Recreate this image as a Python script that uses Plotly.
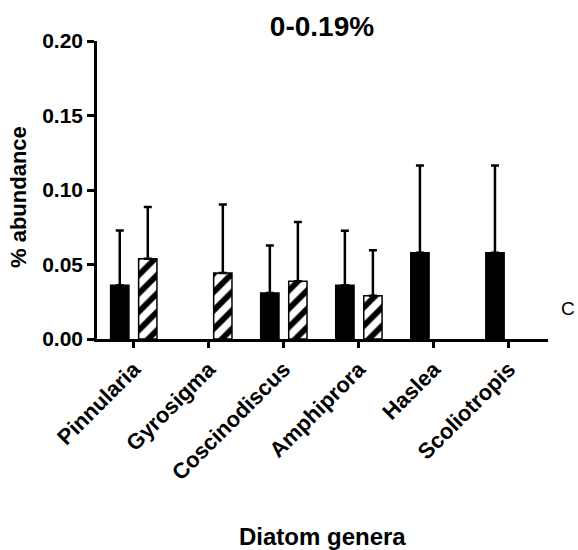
import plotly.graph_objects as go

# Diatom genera and mean % abundance (with upper SD) for the 0-0.19% class
genera = ["Pinnularia", "Gyrosigma", "Coscinodiscus", "Amphiprora", "Haslea", "Scoliotropis"]
solid_vals = [0.0360, None, 0.0309, 0.0360, 0.0579, 0.0579]
solid_err = [0.0369, None, 0.0319, 0.0367, 0.0586, 0.0586]
hatched_vals = [0.0539, 0.0443, 0.0387, 0.0291, None, None]
hatched_err = [0.0347, 0.0460, 0.0398, 0.0304, None, None]
y_ticks = [0.00, 0.05, 0.10, 0.15, 0.20]

FONT = "Arial, Liberation Sans, sans-serif"

fig = go.Figure()
fig.add_trace(go.Bar(
    x=genera, y=solid_vals,
    marker=dict(color="black", line=dict(color="black", width=1.5)),
    error_y=dict(type="data", array=solid_err, arrayminus=[0] * len(genera),
                 symmetric=False, color="black", thickness=2.5, width=4),
    showlegend=False,
))
fig.add_trace(go.Bar(
    x=genera, y=hatched_vals,
    marker=dict(color="white", line=dict(color="black", width=1.5),
                pattern=dict(shape="/", fgcolor="black", bgcolor="white",
                             fgopacity=1, size=13, solidity=0.45,
                             fillmode="replace")),
    error_y=dict(type="data", array=hatched_err, arrayminus=[0] * len(genera),
                 symmetric=False, color="black", thickness=2.5, width=4),
    showlegend=False,
))

fig.update_layout(
    width=578, height=550,
    margin=dict(l=97, r=30, t=41, b=211),
    paper_bgcolor="white", plot_bgcolor="white",
    barmode="group", bargap=0.253, bargroupgap=0.347,
    font=dict(family=FONT, color="black"),
    title=dict(text="<b>0-0.19%</b>", x=322 / 578, xanchor="center",
               y=1 - 26 / 550, yanchor="middle", font=dict(size=28, family=FONT)),
)
fig.update_xaxes(
    range=[-0.49, 5.52], showline=True, linecolor="black", linewidth=2.5,
    ticks="outside", ticklen=6, tickwidth=2.5, tickcolor="black",
    tickangle=-45, tickfont=dict(size=22, family=FONT, weight="bold"),
    showgrid=False, zeroline=False,
)
fig.update_yaxes(
    range=[0, 0.2], tickvals=y_ticks, tickformat=".2f",
    showline=True, linecolor="black", linewidth=2.5,
    ticks="outside", ticklen=7, tickwidth=2.5, tickcolor="black",
    tickfont=dict(size=21, family=FONT, weight="bold"),
    showgrid=False, zeroline=False,
)

fig.add_annotation(text="<b>Diatom genera</b>", xref="paper", yref="paper",
                   x=0.5, y=(339 - 536) / 298, xanchor="center", yanchor="middle",
                   showarrow=False, font=dict(size=24, family=FONT))
fig.add_annotation(text="<b>% abundance</b>", xref="paper", yref="paper",
                   x=(18 - 97) / 451, y=(339 - 197) / 298, xanchor="center",
                   yanchor="middle", textangle=-90, showarrow=False,
                   font=dict(size=22, family=FONT))
fig.add_annotation(text="C", xref="paper", yref="paper",
                   x=(567.5 - 97) / 451, y=(339 - 308) / 298, xanchor="center",
                   yanchor="middle", showarrow=False, font=dict(size=19, family=FONT))

fig.write_html("out.html")
